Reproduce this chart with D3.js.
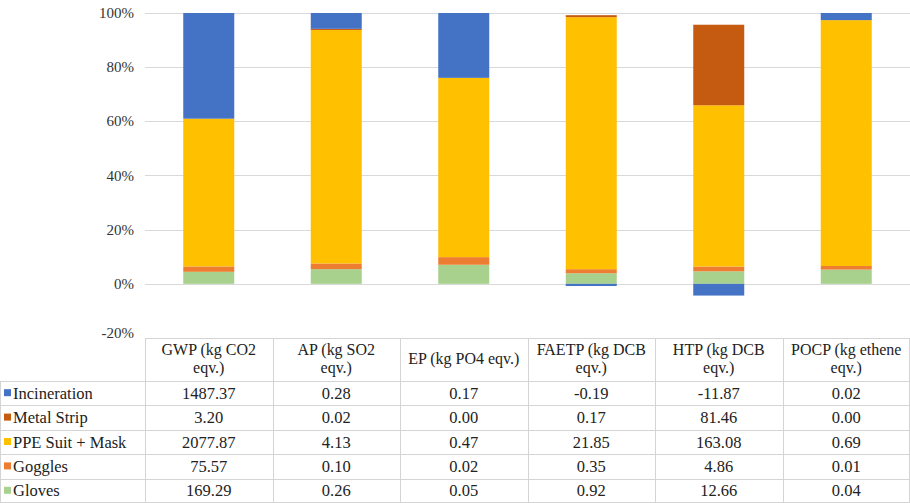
<!DOCTYPE html>
<html>
<head>
<meta charset="utf-8">
<script src="https://cdn.jsdelivr.net/npm/d3@7"></script>
</head>
<body style="margin:0">
<svg id="chart" width="910" height="503"></svg>
<script>
const categories = ["GWP (kg CO2 eqv.)", "AP (kg SO2 eqv.)", "EP (kg PO4 eqv.)", "FAETP (kg DCB eqv.)", "HTP (kg DCB eqv.)", "POCP (kg ethene eqv.)"];
const headerLines = [["GWP (kg CO2", "eqv.)"], ["AP (kg SO2", "eqv.)"], ["EP (kg PO4 eqv.)"], ["FAETP (kg DCB", "eqv.)"], ["HTP (kg DCB", "eqv.)"], ["POCP (kg ethene", "eqv.)"]];
const seriesNames = ["Incineration", "Metal Strip", "PPE Suit + Mask", "Goggles", "Gloves"];
const incineration = [1487.37, 0.28, 0.17, -0.19, -11.87, 0.02];
const metalStrip = [3.20, 0.02, 0.00, 0.17, 81.46, 0.00];
const ppeSuitMask = [2077.87, 4.13, 0.47, 21.85, 163.08, 0.69];
const goggles = [75.57, 0.10, 0.02, 0.35, 4.86, 0.01];
const gloves = [169.29, 0.26, 0.05, 0.92, 12.66, 0.04];
const seriesColors = ["#4472C4", "#C55A11", "#FFC000", "#ED7D31", "#A9D18E"];
const yTicks = [-0.2, 0, 0.2, 0.4, 0.6, 0.8, 1.0];
const yTickLabels = ["-20%", "0%", "20%", "40%", "60%", "80%", "100%"];

const seriesValues = [incineration, metalStrip, ppeSuitMask, goggles, gloves];

const svg = d3.select("#chart");
const W = 910;
const plotLeft = 145, plotRight = 910;
const y = d3.scaleLinear().domain([-0.2, 1.0]).range([338, 13]);
const x = d3.scaleBand().domain(categories).range([plotLeft, plotRight]).paddingInner(0.6).paddingOuter(0.3);
const colX = d3.scaleBand().domain(categories).range([plotLeft, plotRight]);

// text helper: base size 22px, scaled to the wanted size
const BASE = 22;
function placeText(sel, fx, fy, size) {
  const k = size / BASE;
  return sel.attr("x", 0).attr("y", 0)
    .attr("transform", (d, i) => `translate(${fx(d, i)},${fy(d, i)}) scale(${k})`)
    .style("font-family", "'Liberation Serif'").style("font-size", BASE + "px")
    .attr("fill", "#222");
}

// gridlines (0..100%)
svg.append("g").selectAll("line").data(yTicks.filter(t => t >= 0)).join("line")
  .attr("x1", plotLeft).attr("x2", plotRight)
  .attr("y1", d => Math.round(y(d)) + 0.5).attr("y2", d => Math.round(y(d)) + 0.5)
  .attr("stroke", "#d9d9d9").attr("stroke-width", 1);

// y tick labels
placeText(svg.append("g").selectAll("text").data(yTicks).join("text"),
  () => 134, d => y(d) + (d === -0.2 ? 0 : 5), 15)
  .attr("text-anchor", "end").attr("fill", "#333")
  .text((d, i) => yTickLabels[i]);

// 100% stacked segments (Excel style: share of sum of absolute values)
const segments = [];
categories.forEach((c, ci) => {
  const total = d3.sum(seriesValues, s => Math.abs(s[ci]));
  let pos = 0, neg = 0;
  for (let si = seriesValues.length - 1; si >= 0; si--) {
    const v = seriesValues[si][ci] / total;
    if (v >= 0) { segments.push({c, si, y0: pos, y1: pos + v}); pos += v; }
    else { segments.push({c, si, y0: neg + v, y1: neg}); neg += v; }
  }
});
svg.append("g").selectAll("rect").data(segments).join("rect")
  .attr("x", d => x(d.c)).attr("width", x.bandwidth())
  .attr("y", d => y(d.y1)).attr("height", d => Math.max(0, y(d.y0) - y(d.y1)))
  .attr("fill", d => seriesColors[d.si]);

// data table grid
const gridColor = "#d4d4d4";
const headerTop = 338, headerBottom = 381, rowH = 24.4;
const rowTops = seriesNames.map((_, i) => headerBottom + i * rowH);
const tableBottom = headerBottom + seriesNames.length * rowH;
const grid = svg.append("g");
grid.append("line").attr("x1", plotLeft).attr("x2", W).attr("y1", headerTop + 0.5).attr("y2", headerTop + 0.5).attr("stroke", gridColor);
[headerBottom, ...rowTops.slice(1), tableBottom - 1].forEach(yy => {
  grid.append("line").attr("x1", 0).attr("x2", W).attr("y1", Math.round(yy) + 0.5).attr("y2", Math.round(yy) + 0.5).attr("stroke", gridColor);
});
grid.append("line").attr("x1", 0.5).attr("x2", 0.5).attr("y1", headerBottom).attr("y2", tableBottom).attr("stroke", gridColor);
categories.forEach(c => {
  const xx = Math.round(colX(c)) + 0.5;
  grid.append("line").attr("x1", xx).attr("x2", xx).attr("y1", headerTop).attr("y2", tableBottom).attr("stroke", gridColor);
});
grid.append("line").attr("x1", W - 0.5).attr("x2", W - 0.5).attr("y1", headerTop).attr("y2", tableBottom).attr("stroke", gridColor);

// header cells: one text per line
const headerItems = [];
categories.forEach((c, ci) => {
  const lines = headerLines[ci];
  const cx = colX(c) + colX.bandwidth() / 2;
  lines.forEach((ln, li) => headerItems.push({cx, ty: lines.length === 1 ? 364 : 355 + li * 18, ln}));
});
placeText(svg.append("g").selectAll("text").data(headerItems).join("text"),
  d => d.cx, d => d.ty, 16)
  .attr("text-anchor", "middle")
  .text(d => d.ln);

// legend keys
svg.append("g").selectAll("rect").data(seriesNames).join("rect")
  .attr("x", 4).attr("y", (d, i) => rowTops[i] + rowH / 2 - 4).attr("width", 7).attr("height", 7)
  .attr("fill", (d, i) => seriesColors[i]);

// row labels
placeText(svg.append("g").selectAll("text").data(seriesNames).join("text"),
  () => 13, (d, i) => rowTops[i] + rowH / 2 + 5.5, 16.5)
  .text(d => d);

// cell values
const cells = [];
seriesNames.forEach((name, si) => categories.forEach((c, ci) => cells.push({si, c, v: seriesValues[si][ci]})));
placeText(svg.append("g").selectAll("text").data(cells).join("text"),
  d => colX(d.c) + colX.bandwidth() / 2, d => rowTops[d.si] + rowH / 2 + 5.5, 16.5)
  .attr("text-anchor", "middle")
  .text(d => d.v.toFixed(2));
</script>
</body>
</html>
